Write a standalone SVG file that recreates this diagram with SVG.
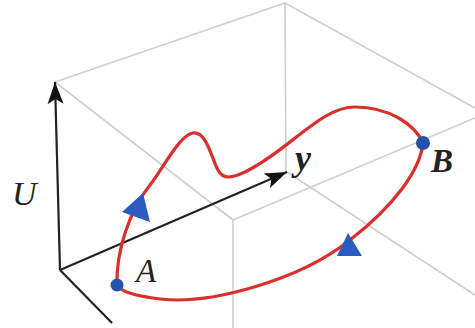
<svg xmlns="http://www.w3.org/2000/svg" width="475" height="328" viewBox="0 0 475 328">
<defs>
<style>
.box{stroke:#cfcfcf;stroke-width:1.6;fill:none;stroke-linecap:round}
.axis{stroke:#222;stroke-width:2.2;fill:none}
.curve{stroke:#d8302c;stroke-width:3.2;fill:none}
.tri{fill:#2a5cc0}
.dot{fill:#2452a8}
.lbl{font-family:"Liberation Serif","DejaVu Serif",serif;font-style:italic;fill:#222}
</style>
<marker id="ah" markerUnits="userSpaceOnUse" markerWidth="24" markerHeight="18" refX="22" refY="8" orient="auto" viewBox="0 0 24 16">
<path d="M0,0 L22,8 L0,16 L5,8 Z" fill="#111"/>
</marker>
</defs>
<g id="box">
<line class="box" x1="55" y1="82" x2="285" y2="3"/>
<line class="box" x1="285" y1="3" x2="475" y2="108"/>
<line class="box" x1="285" y1="3" x2="286" y2="172"/>
<line class="box" x1="287" y1="172" x2="475" y2="295"/>
<line class="box" x1="55" y1="82" x2="233" y2="220"/>
<line class="box" x1="233" y1="220" x2="475" y2="118"/>
<line class="box" x1="233" y1="220" x2="233" y2="328"/>
</g>
<g id="connectors">
<line class="axis" x1="60" y1="270" x2="55" y2="82" marker-end="url(#ah)"/>
<line class="axis" x1="60" y1="270" x2="287" y2="172" marker-end="url(#ah)"/>
<line class="axis" x1="60" y1="270" x2="112" y2="323"/>
<path class="curve" d="M117,285 C116,250 130,210 150,185 C165,165 180,135 193,133 C207,131 212,160 218,170 C223,180 232,178 245,172 C290,150 320,107 355,107 C390,107 415,125 423,143 C420,170 395,205 350,240 C300,280 210,305 160,299 C135,296 120,291 117,285 Z"/>
<polygon class="tri" points="143,193 122,212 150,222"/>
<polygon class="tri" points="348,233 337,256 362,256"/>
</g>
<g id="A">
<circle class="dot" cx="117" cy="285" r="6.5"/>
<text class="lbl" x="136" y="282" font-size="33">A</text>
</g>
<g id="B">
<circle class="dot" cx="423" cy="143" r="7"/>
<text class="lbl" x="431" y="172" font-size="33" font-weight="bold">B</text>
</g>
<g id="U">
<text class="lbl" x="12" y="205" font-size="34">U</text>
</g>
<g id="y">
<text class="lbl" x="295" y="170" font-size="36" font-weight="bold">y</text>
</g>
</svg>
